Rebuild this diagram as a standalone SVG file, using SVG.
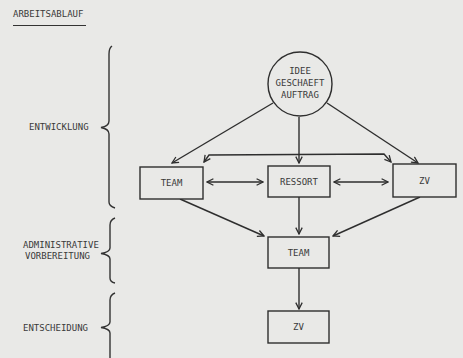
<svg xmlns="http://www.w3.org/2000/svg" width="463" height="358" viewBox="0 0 463 358">
<defs>
<style>
.t{font-family:"DejaVu Sans Mono","Liberation Mono",monospace;font-size:9px;fill:#3a3a3a}
.c{text-anchor:middle}
.s{fill:none;stroke:#2e2e2e;stroke-width:1.4}
.b{fill:none;stroke:#333;stroke-width:1.4}
.n{fill:#e9e9e7;stroke:#2e2e2e;stroke-width:1.4}
</style>
<marker id="a" viewBox="0 0 10 10" refX="9" refY="5" markerWidth="8" markerHeight="8" markerUnits="userSpaceOnUse" orient="auto-start-reverse">
<polyline points="1,1 9,5 1,9" fill="none" stroke="#2e2e2e" stroke-width="1.6"/>
</marker>
</defs>
<rect width="463" height="358" fill="#e9e9e7"/>
<g id="title">
<text class="t" x="13" y="17">ARBEITSABLAUF</text>
<line x1="13" y1="25.5" x2="86" y2="25.5" stroke="#333" stroke-width="1"/>
</g>
<g id="phases">
<path class="b" d="M112,46 Q109,48 109,54 L109,121 Q109,126 101,127.5 Q109,129 109,134 L109,202 Q109,206 115,208"/>
<path class="b" d="M115,218 Q110,220 110,225 L110,248 Q110,252 101,253.5 Q110,255 110,259 L110,278 Q110,282 115,283"/>
<path class="b" d="M115,293 Q110,295 110,300 L110,322 Q110,326 101,327.5 Q110,329 110,333 L110,358"/>
<text class="t" x="29" y="130">ENTWICKLUNG</text>
<text class="t" x="23" y="248">ADMINISTRATIVE</text>
<text class="t" x="25" y="259">VORBEREITUNG</text>
<text class="t" x="23" y="331">ENTSCHEIDUNG</text>
</g>
<g id="connectors">
<line class="s" x1="273" y1="103" x2="172" y2="163" marker-end="url(#a)"/>
<line class="s" x1="299" y1="117" x2="299" y2="163" marker-end="url(#a)"/>
<line class="s" x1="327" y1="103" x2="418" y2="163" marker-end="url(#a)"/>
<path class="s" d="M391,162 L384,154 L209,155 L204,162" marker-start="url(#a)" marker-end="url(#a)"/>
<line class="s" x1="207" y1="182" x2="263" y2="182" marker-start="url(#a)" marker-end="url(#a)"/>
<line class="s" x1="334" y1="182" x2="388" y2="182" marker-start="url(#a)" marker-end="url(#a)"/>
<line class="s" x1="180" y1="199" x2="264" y2="236" marker-end="url(#a)"/>
<line class="s" x1="299" y1="197" x2="299" y2="234" marker-end="url(#a)"/>
<line class="s" x1="420" y1="197" x2="333" y2="236" marker-end="url(#a)"/>
<line class="s" x1="299" y1="268" x2="299" y2="309" marker-end="url(#a)"/>
</g>
<g id="idee">
<circle class="n" cx="300" cy="84" r="32"/>
<text class="t c" x="300" y="74">IDEE</text>
<text class="t c" x="300" y="86">GESCHAEFT</text>
<text class="t c" x="300" y="98">AUFTRAG</text>
</g>
<g id="team1">
<rect class="n" x="140" y="167" width="63" height="32"/>
<text class="t c" x="171.5" y="186">TEAM</text>
</g>
<g id="ressort">
<rect class="n" x="268" y="166" width="62" height="31"/>
<text class="t c" x="299" y="185">RESSORT</text>
</g>
<g id="zv1">
<rect class="n" x="393" y="164" width="63" height="33"/>
<text class="t c" x="424.5" y="184">ZV</text>
</g>
<g id="team2">
<rect class="n" x="268" y="237" width="61" height="31"/>
<text class="t c" x="298.5" y="256">TEAM</text>
</g>
<g id="zv2">
<rect class="n" x="268" y="311" width="61" height="32"/>
<text class="t c" x="298.5" y="330">ZV</text>
</g>
</svg>
